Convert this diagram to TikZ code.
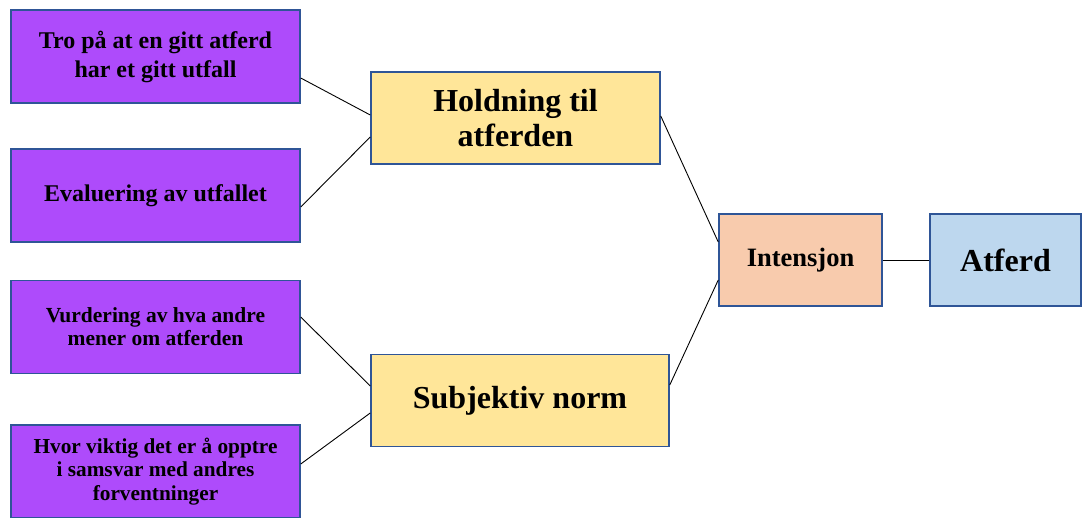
\documentclass[tikz,border=0pt]{standalone}
\usepackage{fontspec}
\setmainfont{Liberation Serif}
\usepackage{tikz}
\usetikzlibrary{positioning}
\definecolor{tpbpurple}{HTML}{AE4BFB}
\definecolor{tpbyellow}{HTML}{FFE699}
\definecolor{tpbpeach}{HTML}{F8CBAD}
\definecolor{tpbblue}{HTML}{BDD7EE}
\definecolor{tpbframe}{HTML}{2F5597}

\begin{document}
\begin{tikzpicture}[x=1pt,y=-1pt,
  box/.style={draw=tpbframe,line width=1.5pt,inner sep=2pt,align=center,font=\bfseries},
  belief/.style={box,fill=tpbpurple,minimum width=289pt,minimum height=93pt},
  factor/.style={box,fill=tpbyellow,minimum height=92pt},
  link/.style={black,line width=0.9pt}
]
\useasboundingbox (0,0) rectangle (1082,518);
\node[belief,font=\bfseries\fontsize{24}{29}\selectfont] (b1) at (155.5,56.5) {Tro på at en gitt atferd\\har et gitt utfall};
\node[belief,font=\bfseries\fontsize{24}{29}\selectfont] (b2) at (155.5,195.5) {Evaluering av utfallet};
\node[belief,font=\bfseries\fontsize{21.5}{23}\selectfont] (b3) at (155.5,327) {Vurdering av hva andre\\mener om atferden};
\node[belief,font=\bfseries\fontsize{21.3}{23.5}\selectfont] (b4) at (155.5,471.5) {Hvor viktig det er å opptre\\i samsvar med andres\\forventninger};
\node[factor,minimum width=289pt,font=\bfseries\fontsize{32}{35}\selectfont] (hold) at (515.5,118) {Holdning til\\atferden};
\node[factor,minimum width=298pt,font=\bfseries\fontsize{32}{35}\selectfont] (subj) at (520,400.5) {Subjektiv norm};
\node[box,fill=tpbpeach,minimum width=163pt,minimum height=92pt,font=\bfseries\fontsize{26.5}{30}\selectfont] (int) at (800.5,260) {Intensjon};
\node[box,fill=tpbblue,minimum width=151pt,minimum height=92pt,font=\bfseries\fontsize{32}{35}\selectfont] (atf) at (1005.5,260) {Atferd};
\draw[link] ([yshift=-21.5pt]b1.east) -- ([yshift=3pt]hold.west);
\draw[link] ([yshift=-11.5pt]b2.east) -- ([yshift=-19pt]hold.west);
\draw[link] ([yshift=10pt]b3.east) -- ([yshift=14.5pt]subj.west);
\draw[link] ([yshift=7.5pt]b4.east) -- ([yshift=-12.5pt]subj.west);
\draw[link] ([yshift=2pt]hold.east) -- ([yshift=18pt]int.west);
\draw[link] ([yshift=15.5pt]subj.east) -- ([yshift=-20pt]int.west);
\draw[link] (int.east) -- (atf.west);
\end{tikzpicture}
\end{document}
